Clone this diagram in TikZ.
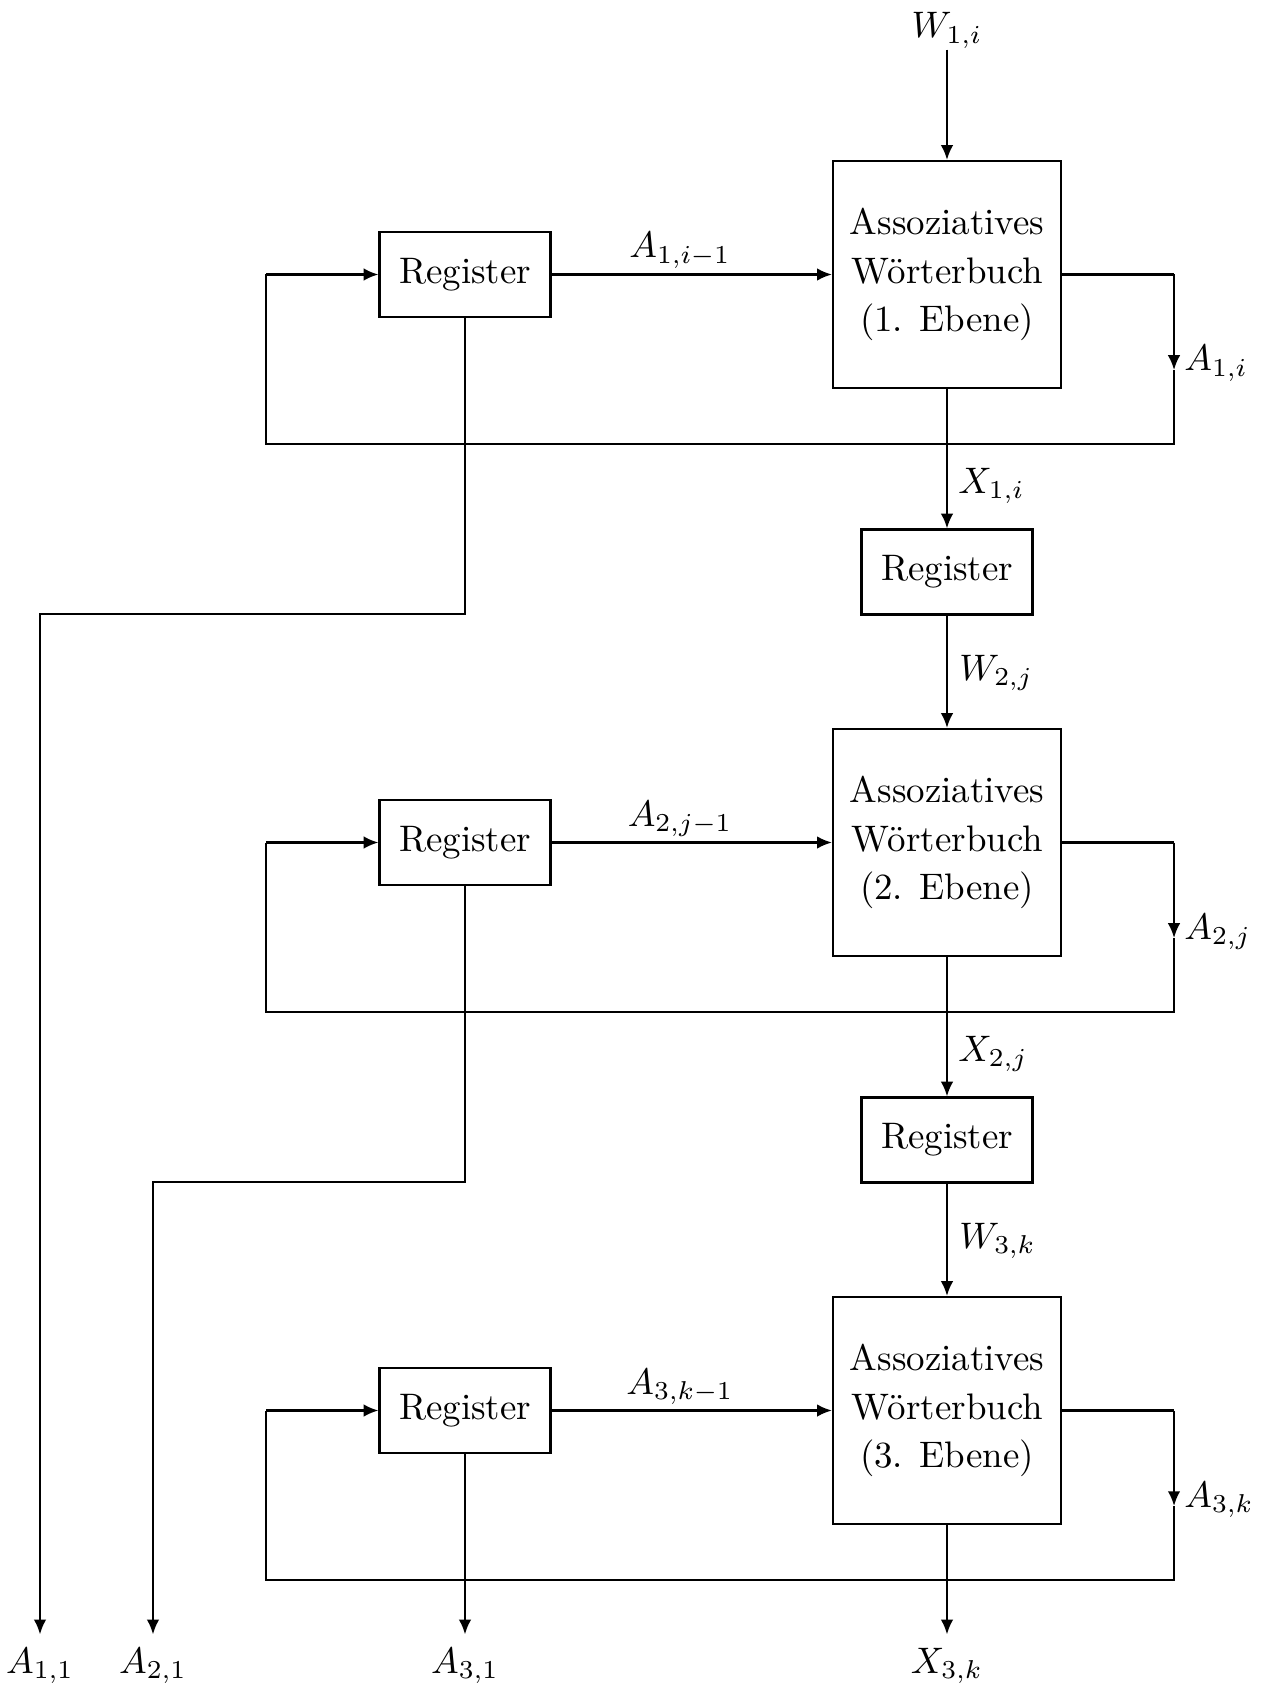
\documentclass[tikz,border=0pt]{standalone}
\usepackage{fontspec}
\usetikzlibrary{arrows.meta}
\begin{document}
\begin{tikzpicture}[x=0.271pt,y=-0.271pt,line width=0.6pt,
  dict/.style={draw,minimum width=61.8pt,minimum height=61.5pt,inner sep=0pt,align=center,font=\fontsize{10}{13.1}\selectfont},
  regbox/.style={draw,minimum width=46.3pt,minimum height=23pt,inner sep=0pt},
  arr/.style={-{Latex[length=4pt,width=3.4pt]}},
  lbl/.style={anchor=base},
  lblw/.style={anchor=base west}]
\useasboundingbox (0,0) rectangle (1261,1686);

% ---------- Level 1 ----------
\node[lbl,inner sep=0pt] (W1) at (947,38) {$W_{1,i}$};
\node[dict] (D1) at (947,274.5) {Assoziatives\\Wörterbuch\\(1. Ebene)};
\node[regbox] (R1) at (465,274.5) {Register};
\node[lbl] (LA1) at (680,258) {$A_{1,i-1}$};
\node[lblw] (LB1) at (1171,371) {$A_{1,i}$};
\coordinate (E1) at (1174,274.5);
\coordinate (M1) at (1174,370);
\coordinate (F1) at (1174,444);
\coordinate (G1) at (266,444);
\coordinate (H1) at (266,274.5);
\draw[arr] (W1.south) -- (D1.north);
\draw[arr] (R1.east) -- (D1.west);
\draw (D1.east) -- (E1);
\draw[arr] (E1) -- (M1);
\draw (M1) -- (F1) -- (G1) -- (H1);
\draw[arr] (H1) -- (R1.west);

\node[regbox] (S1) at (947,572) {Register};
\node[lblw] (LX1) at (945,493) {$X_{1,i}$};
\node[lblw] (LW2) at (946,680) {$W_{2,j}$};
\draw[arr] (D1.south) -- (S1.north);

% ---------- Level 2 ----------
\node[dict] (D2) at (947,842.5) {Assoziatives\\Wörterbuch\\(2. Ebene)};
\node[regbox] (R2) at (465,842.5) {Register};
\node[lbl] (LA2) at (680,826) {$A_{2,j-1}$};
\node[lblw] (LB2) at (1171,939) {$A_{2,j}$};
\coordinate (E2) at (1174,842.5);
\coordinate (M2) at (1174,938);
\coordinate (F2) at (1174,1012);
\coordinate (G2) at (266,1012);
\coordinate (H2) at (266,842.5);
\draw[arr] (S1.south) -- (D2.north);
\draw[arr] (R2.east) -- (D2.west);
\draw (D2.east) -- (E2);
\draw[arr] (E2) -- (M2);
\draw (M2) -- (F2) -- (G2) -- (H2);
\draw[arr] (H2) -- (R2.west);

\node[regbox] (S2) at (947,1140) {Register};
\node[lblw] (LX2) at (945,1061) {$X_{2,j}$};
\node[lblw] (LW3) at (946,1248) {$W_{3,k}$};
\draw[arr] (D2.south) -- (S2.north);

% ---------- Level 3 ----------
\node[dict] (D3) at (947,1410.5) {Assoziatives\\Wörterbuch\\(3. Ebene)};
\node[regbox] (R3) at (465,1410.5) {Register};
\node[lbl] (LA3) at (680,1394) {$A_{3,k-1}$};
\node[lblw] (LB3) at (1171,1507) {$A_{3,k}$};
\coordinate (E3) at (1174,1410.5);
\coordinate (M3) at (1174,1506);
\coordinate (F3) at (1174,1580);
\coordinate (G3) at (266,1580);
\coordinate (H3) at (266,1410.5);
\draw[arr] (S2.south) -- (D3.north);
\draw[arr] (R3.east) -- (D3.west);
\draw (D3.east) -- (E3);
\draw[arr] (E3) -- (M3);
\draw (M3) -- (F3) -- (G3) -- (H3);
\draw[arr] (H3) -- (R3.west);

% ---------- Outputs ----------
\node[lbl] (O1) at (40,1673) {$A_{1,1}$};
\node[lbl] (O2) at (153,1673) {$A_{2,1}$};
\node[lbl] (O3) at (465,1673) {$A_{3,1}$};
\node[lbl] (OX) at (947,1673) {$X_{3,k}$};
\coordinate (P1) at (465,614);
\coordinate (P2) at (465,1182);
\draw[arr] (R1.south) -- (P1) -- (O1.north |- P1) -- (O1.north);
\draw[arr] (R2.south) -- (P2) -- (O2.north |- P2) -- (O2.north);
\draw[arr] (R3.south) -- (O3.north);
\draw[arr] (D3.south) -- (OX.north);
\end{tikzpicture}
\end{document}
